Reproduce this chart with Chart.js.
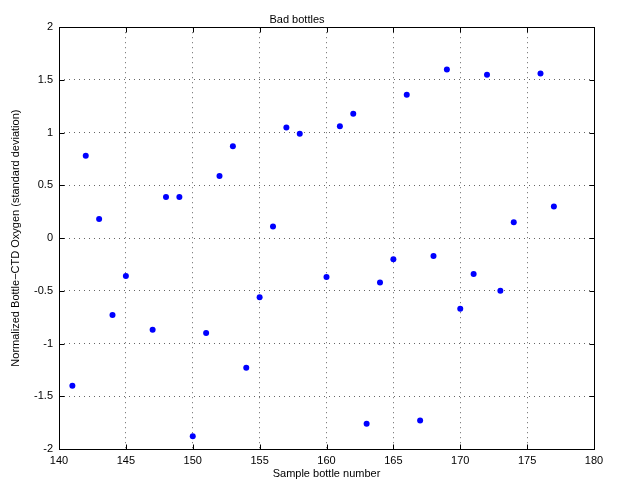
<!DOCTYPE html>
<html>
<head>
<meta charset="utf-8">
<script src="https://cdn.jsdelivr.net/npm/chart.js@4/dist/chart.umd.min.js"></script>
<style>
  html, body { margin: 0; padding: 0; background: #fff; }
  #wrap { width: 621px; height: 481px; }
</style>
</head>
<body>
<div id="wrap"><canvas id="chart" width="621" height="481"></canvas></div>
<script>
// bottle numbers and normalized bottle-CTD oxygen differences
var bottles = [141, 142, 143, 144, 145, 147, 148, 149, 150, 151, 152, 153, 154, 155, 156, 157, 158,
               160, 161, 162, 163, 164, 165, 166, 167, 168, 169, 170, 171, 172, 173, 174, 176, 177];
var oxygen = [-1.40, 0.78, 0.18, -0.73, -0.36, -0.87, 0.39, 0.39, -1.88, -0.90, 0.59, 0.87, -1.23, -0.56, 0.11, 1.05, 0.99,
              -0.37, 1.06, 1.18, -1.76, -0.42, -0.20, 1.36, -1.73, -0.17, 1.60, -0.67, -0.34, 1.55, -0.50, 0.15, 1.56, 0.30];
var xTicks = [140, 145, 150, 155, 160, 165, 170, 175, 180];
var yTicks = [-2, -1.5, -1, -0.5, 0, 0.5, 1, 1.5, 2];

var font = 'Liberation Sans, Arial, Helvetica, sans-serif';

// MATLAB style box with inward ticks
var boxPlugin = {
    id: 'box',
    afterDatasetsDraw: function(chart) {
        var ctx = chart.ctx, a = chart.chartArea;
        var xs = chart.scales.x, ys = chart.scales.y;
        var L = Math.round(a.left) + 0.5, R = Math.round(a.right) + 0.5;
        var T = Math.round(a.top) + 0.5, B = Math.round(a.bottom) + 0.5;
        ctx.save();
        ctx.strokeStyle = '#000';
        ctx.lineWidth = 1;
        ctx.strokeRect(L, T, R - L, B - T);
        ctx.beginPath();
        xTicks.forEach(function(v) {
            var px = Math.round(xs.getPixelForValue(v)) + 0.5;
            ctx.moveTo(px, B); ctx.lineTo(px, B - 5);
            ctx.moveTo(px, T); ctx.lineTo(px, T + 5);
        });
        yTicks.forEach(function(v) {
            var py = Math.round(ys.getPixelForValue(v)) + 0.5;
            ctx.moveTo(L, py); ctx.lineTo(L + 5, py);
            ctx.moveTo(R, py); ctx.lineTo(R - 5, py);
        });
        ctx.stroke();
        ctx.restore();
    }
};

var points = bottles.map(function(b, i) { return { x: b, y: oxygen[i] }; });

new Chart(document.getElementById('chart').getContext('2d'), {
    type: 'scatter',
    data: {
        datasets: [{
            label: 'Bad bottles',
            data: points,
            backgroundColor: '#0000ff',
            borderWidth: 0,
            pointRadius: 3,
            pointHoverRadius: 3
        }]
    },
    options: {
        responsive: false,
        animation: false,
        devicePixelRatio: 1,
        layout: { padding: { left: 0, right: 27, top: 0, bottom: 0 } },
        plugins: {
            legend: { display: false },
            tooltip: { enabled: false },
            title: {
                display: true,
                text: 'Bad bottles',
                color: '#000',
                font: { family: font, size: 11, weight: 'normal', lineHeight: 1.2 },
                padding: { top: 13, bottom: 1 }
            }
        },
        scales: {
            x: {
                type: 'linear',
                min: 140, max: 180,
                afterBuildTicks: function(s) { s.ticks = xTicks.map(function(v) { return { value: v }; }); },
                afterFit: function(s) { s.height = 32; },
                ticks: { color: '#000', font: { family: font, size: 11 }, padding: 5, maxRotation: 0,
                         callback: function(v) { return String(v); } },
                grid: { color: '#666', drawTicks: false, lineWidth: 1 },
                border: { display: false, dash: [1, 4] },
                title: { display: true, text: 'Sample bottle number', color: '#000',
                         font: { family: font, size: 11, lineHeight: 1.2 }, padding: { top: 0, bottom: 0 } }
            },
            y: {
                type: 'linear',
                min: -2, max: 2,
                afterBuildTicks: function(s) { s.ticks = yTicks.map(function(v) { return { value: v }; }); },
                afterFit: function(s) { s.width = 59; },
                ticks: { color: '#000', font: { family: font, size: 11 }, padding: 6,
                         callback: function(v) { return String(v); } },
                grid: { color: '#666', drawTicks: false, lineWidth: 1 },
                border: { display: false, dash: [1, 4] },
                title: { display: true, text: 'Normalized Bottle\u2212CTD Oxygen (standard deviation)', color: '#000',
                         font: { family: font, size: 11, lineHeight: 1.2 }, padding: 9 }
            }
        }
    },
    plugins: [boxPlugin]
});
</script>
</body>
</html>
